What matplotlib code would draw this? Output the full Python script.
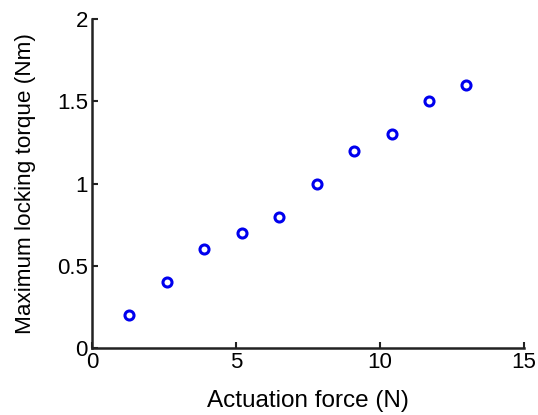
import matplotlib
matplotlib.use("Agg")
import matplotlib.pyplot as plt

force = [1.3, 2.6, 3.9, 5.2, 6.5, 7.8, 9.1, 10.4, 11.7, 13.0]
torque = [0.2, 0.4, 0.6, 0.7, 0.8, 1.0, 1.2, 1.3, 1.5, 1.6]
xticks = [0, 5, 10, 15]
yticks = [0, 0.5, 1, 1.5, 2]
yticklabels = ["0", "0.5", "1", "1.5", "2"]

plt.rcParams['font.family'] = ['Liberation Sans', 'DejaVu Sans']
fig = plt.figure(figsize=(5.38, 4.15), dpi=100)
ax = fig.add_axes([0.171, 0.161, 0.803, 0.793])
ax.plot(force, torque, linestyle='none', marker='o', markersize=6.5,
        markerfacecolor='none', markeredgecolor='#0000ee', markeredgewidth=2.2)
ax.set_xlim(0, 15)
ax.set_ylim(0, 2)
ax.set_xticks(xticks)
ax.set_yticks(yticks)
ax.set_yticklabels(yticklabels)
for s in ['top', 'right']:
    ax.spines[s].set_visible(False)
for s in ['left', 'bottom']:
    ax.spines[s].set_linewidth(1.8)
    ax.spines[s].set_color('#222222')
ax.tick_params(direction='in', length=4, width=1.5, labelsize=16, pad=3, colors='#222222', labelcolor='black')
ax.set_xlabel('Actuation force (N)', fontsize=17.5, labelpad=12)
ax.set_ylabel('Maximum locking torque (Nm)', fontsize=16.2, labelpad=15)
fig.savefig('out.png', dpi=100)
